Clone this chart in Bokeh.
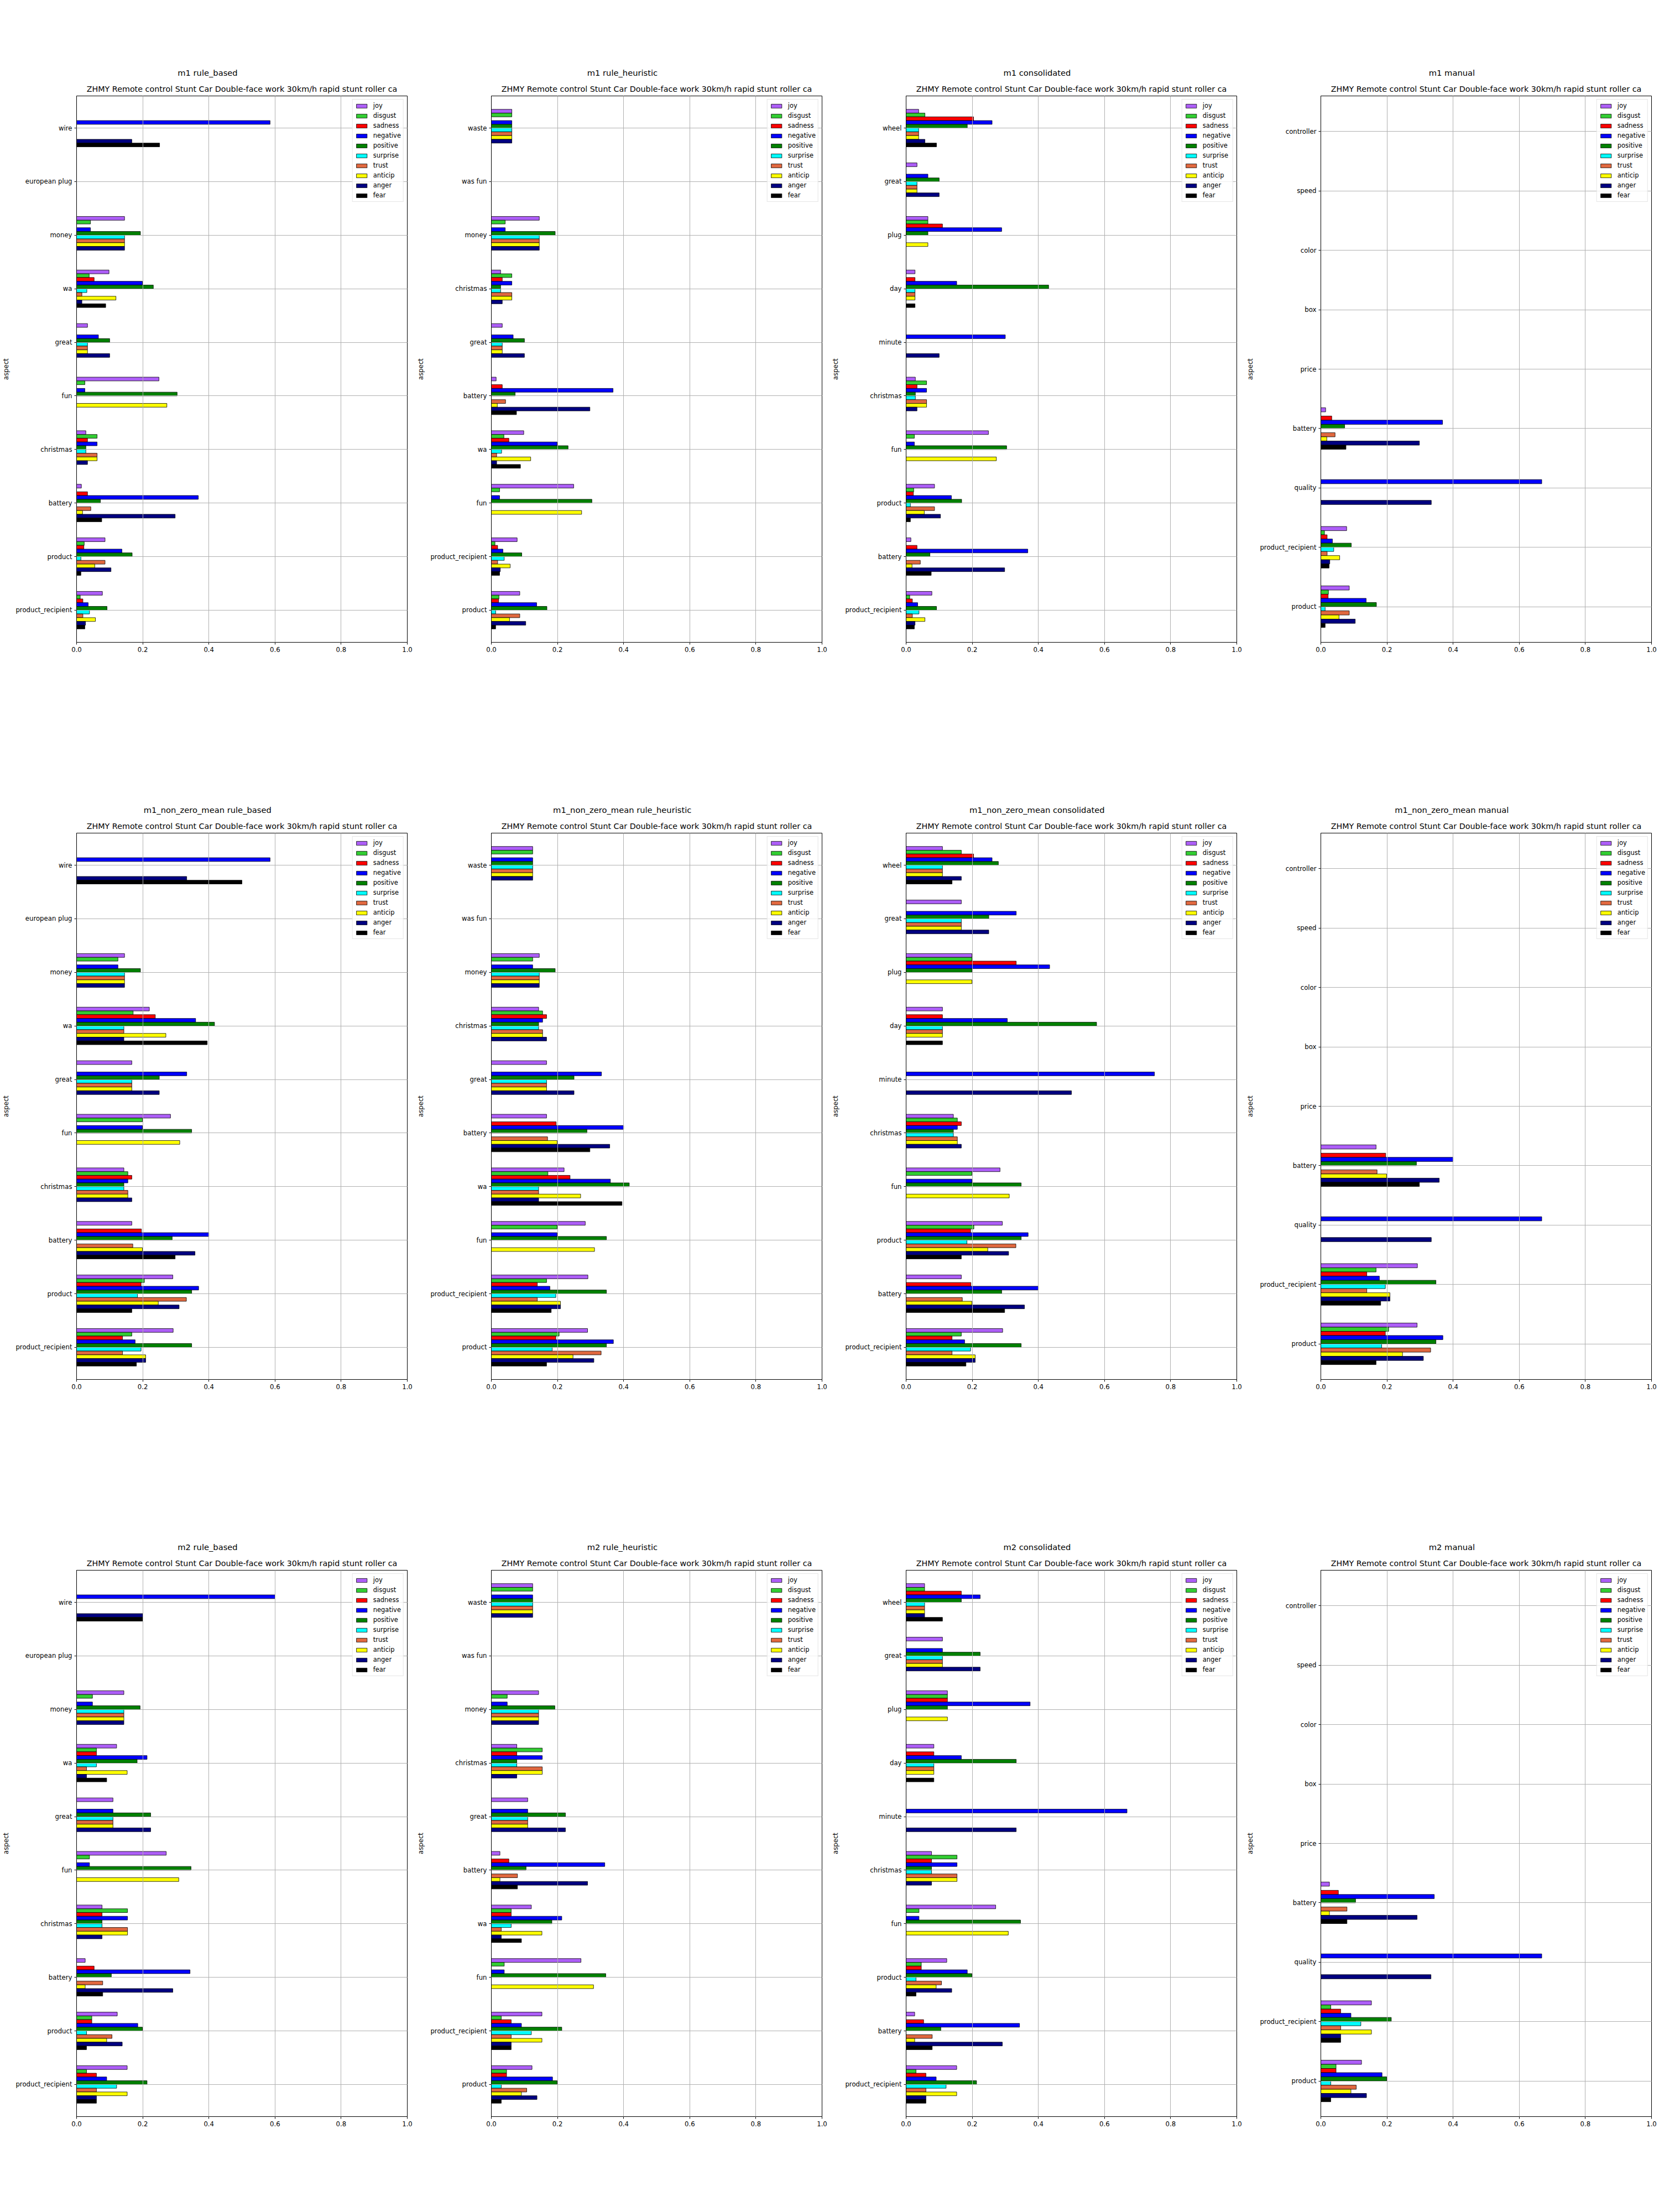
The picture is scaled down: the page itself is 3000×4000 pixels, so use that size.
from bokeh.plotting import figure
from bokeh.layouts import gridplot
from bokeh.models import (Range1d, FixedTicker, Legend, LegendItem, Title,
                          ColumnDataSource, PrintfTickFormatter)
from bokeh.transform import dodge
from bokeh.embed import file_html
from bokeh.resources import INLINE

# ---------------- data ----------------
EMOTIONS = ["joy", "disgust", "sadness", "negative", "positive",
            "surprise", "trust", "anticip", "anger", "fear"]
COLORS = ["#AD5EF7", "#32CD32", "#FF0000", "#0000FF", "#008000",
          "#00FFFF", "#E0683F", "#FFFF00", "#000080", "#000000"]

SUBTITLE = "ZHMY Remote control Stunt Car Double-face work 30km/h rapid stunt roller ca"
METRICS = ["m1", "m1_non_zero_mean", "m2"]
METHODS = ["rule_based", "rule_heuristic", "consolidated", "manual"]

# aspects, listed top to bottom as drawn
ASPECTS_RULE_BASED = ["wire", "european plug", "money", "wa", "great", "fun",
                      "christmas", "battery", "product", "product_recipient"]
ASPECTS_RULE_HEURISTIC = ["waste", "was fun", "money", "christmas", "great", "battery",
                          "wa", "fun", "product_recipient", "product"]
ASPECTS_CONSOLIDATED = ["wheel", "great", "plug", "day", "minute", "christmas",
                        "fun", "product", "battery", "product_recipient"]
ASPECTS_MANUAL = ["controller", "speed", "color", "box", "price", "battery",
                  "quality", "product_recipient", "product"]

Z = [0, 0, 0, 0, 0, 0, 0, 0, 0, 0]

# values per aspect, in EMOTIONS order
M1 = {
    "wire": [0, 0, 0, 0.585, 0, 0, 0, 0, 0.167, 0.251],
    "european plug": Z,
    "money": [0.145, 0.042, 0, 0.042, 0.193, 0.145, 0.145, 0.145, 0.145, 0],
    "wa": [0.098, 0.038, 0.053, 0.199, 0.232, 0.031, 0.016, 0.119, 0.016, 0.088],
    "great": [0.033, 0, 0, 0.066, 0.100, 0.033, 0.033, 0.033, 0.100, 0],
    "fun": [0.249, 0.025, 0, 0.025, 0.304, 0, 0, 0.273, 0, 0],
    "christmas": [0.028, 0.062, 0.033, 0.062, 0.028, 0.028, 0.062, 0.062, 0.033, 0],
    "battery": [0.0145, 0, 0.033, 0.368, 0.072, 0, 0.043, 0.018, 0.298, 0.076],
    "product": [0.086, 0.023, 0.022, 0.137, 0.168, 0.013, 0.086, 0.055, 0.104, 0.013],
    "product_recipient": [0.078, 0.011, 0.019, 0.035, 0.092, 0.039, 0.019, 0.057, 0.027, 0.025],
    "waste": [0.062, 0.062, 0, 0.062, 0.062, 0.062, 0.062, 0.062, 0.062, 0],
    "was fun": Z,
    "wheel": [0.038, 0.057, 0.204, 0.260, 0.185, 0.038, 0.038, 0.038, 0.057, 0.092],
    "plug": [0.066, 0.066, 0.110, 0.289, 0.066, 0, 0, 0.066, 0, 0],
    "day": [0.027, 0, 0.027, 0.153, 0.431, 0.027, 0.027, 0.027, 0, 0.027],
    "minute": [0, 0, 0, 0.300, 0, 0, 0, 0, 0.100, 0],
    "controller": Z, "speed": Z, "color": Z, "box": Z, "price": Z,
    "quality": [0, 0, 0, 0.668, 0, 0, 0, 0, 0.334, 0],
}

M1_NON_ZERO_MEAN = {
    "wire": [0, 0, 0, 0.585, 0, 0, 0, 0, 0.333, 0.500],
    "european plug": Z,
    "money": [0.145, 0.125, 0, 0.125, 0.193, 0.145, 0.145, 0.145, 0.145, 0],
    "wa": [0.220, 0.171, 0.238, 0.360, 0.417, 0.143, 0.143, 0.270, 0.143, 0.395],
    "great": [0.167, 0, 0, 0.333, 0.250, 0.167, 0.167, 0.167, 0.250, 0],
    "fun": [0.284, 0.199, 0, 0.199, 0.348, 0, 0, 0.312, 0, 0],
    "christmas": [0.143, 0.155, 0.167, 0.155, 0.143, 0.143, 0.155, 0.155, 0.167, 0],
    "battery": [0.167, 0, 0.196, 0.400, 0.289, 0, 0.170, 0.199, 0.358, 0.298],
    "product": [0.291, 0.205, 0.195, 0.369, 0.348, 0.184, 0.332, 0.247, 0.310, 0.167],
    "product_recipient": [0.292, 0.167, 0.139, 0.177, 0.348, 0.195, 0.139, 0.209, 0.209, 0.181],
    "waste": [0.125, 0.125, 0, 0.125, 0.125, 0.125, 0.125, 0.125, 0.125, 0],
    "was fun": Z,
    "wheel": [0.110, 0.167, 0.204, 0.260, 0.279, 0.110, 0.110, 0.110, 0.167, 0.139],
    "plug": [0.199, 0.199, 0.333, 0.434, 0.199, 0, 0, 0.199, 0, 0],
    "day": [0.110, 0, 0.110, 0.306, 0.576, 0.110, 0.110, 0.110, 0, 0.110],
    "minute": [0, 0, 0, 0.751, 0, 0, 0, 0, 0.500, 0],
    "controller": Z, "speed": Z, "color": Z, "box": Z, "price": Z,
    "quality": [0, 0, 0, 0.668, 0, 0, 0, 0, 0.334, 0],
}

M2 = {
    "wire": [0, 0, 0, 0.600, 0, 0, 0, 0, 0.200, 0.200],
    "european plug": Z,
    "money": [0.143, 0.048, 0, 0.048, 0.192, 0.143, 0.143, 0.143, 0.143, 0],
    "wa": [0.121, 0.060, 0.060, 0.213, 0.183, 0.060, 0.030, 0.153, 0.030, 0.091],
    "great": [0.110, 0, 0, 0.110, 0.224, 0.110, 0.110, 0.110, 0.224, 0],
    "fun": [0.271, 0.039, 0, 0.039, 0.346, 0, 0, 0.309, 0, 0],
    "christmas": [0.077, 0.154, 0.077, 0.154, 0.077, 0.077, 0.154, 0.154, 0.077, 0],
    "battery": [0.026, 0, 0.053, 0.343, 0.105, 0, 0.079, 0.026, 0.291, 0.079],
    "product": [0.123, 0.046, 0.046, 0.185, 0.199, 0.030, 0.107, 0.091, 0.138, 0.030],
    "product_recipient": [0.153, 0.030, 0.060, 0.091, 0.213, 0.121, 0.060, 0.153, 0.060, 0.060],
    "waste": [0.125, 0.125, 0, 0.125, 0.125, 0.125, 0.125, 0.125, 0.125, 0],
    "was fun": Z,
    "wheel": [0.056, 0.056, 0.167, 0.224, 0.167, 0.056, 0.056, 0.056, 0.056, 0.110],
    "plug": [0.125, 0.125, 0.125, 0.375, 0.125, 0, 0, 0.125, 0, 0],
    "day": [0.084, 0, 0.084, 0.167, 0.333, 0.084, 0.084, 0.084, 0, 0.084],
    "minute": [0, 0, 0, 0.668, 0, 0, 0, 0, 0.333, 0],
    "controller": Z, "speed": Z, "color": Z, "box": Z, "price": Z,
    "quality": [0, 0, 0, 0.668, 0, 0, 0, 0, 0.333, 0],
}

X_TICKS = [0.0, 0.2, 0.4, 0.6, 0.8, 1.0]

# ---------------- drawing ----------------
FONT = "DejaVu Sans"
BAR_H = 0.07
FIG_W, FIG_H = 750, 1333
B_LEFT, B_RIGHT, B_TOP, B_BOTTOM = 138, 14, 173, 172
TITLE_PX = 14.7

# DejaVu Sans advance widths (em) for centring the main title on the cell
_EM = {"a": .613, "b": .635, "c": .550, "d": .635, "e": .615, "f": .352,
       "g": .635, "h": .634, "i": .278, "j": .278, "k": .579, "l": .278,
       "m": .974, "n": .634, "o": .612, "p": .635, "q": .635, "r": .411,
       "s": .521, "t": .392, "u": .634, "v": .592, "w": .818, "x": .592,
       "y": .592, "z": .525, "1": .636, "2": .636, "_": .500, " ": .318}


def text_width(s, px):
    return sum(_EM.get(ch, 0.6) for ch in s) * px


def make_panel(main_title, aspects, values):
    n = len(aspects)
    idx = [n - 1 - i for i in range(n)]
    data = {"aspect": aspects, "idx": idx}
    for j, e in enumerate(EMOTIONS):
        data[e] = [values[a][j] for a in aspects]
    src = ColumnDataSource(data)

    p = figure(width=FIG_W, height=FIG_H, x_range=Range1d(0, 1),
               y_range=Range1d(-0.6, n - 0.4), output_backend="svg",
               toolbar_location=None, title=main_title,
               min_border_left=B_LEFT, min_border_right=B_RIGHT,
               min_border_top=B_TOP, min_border_bottom=B_BOTTOM)
    # main (outer) title, centred over the whole cell
    p.title.align = "left"
    p.title.offset = FIG_W / 2 - B_LEFT - text_width(main_title, TITLE_PX) / 2
    p.title.text_font = FONT
    p.title.text_font_size = f"{TITLE_PX}px"
    p.title.text_font_style = "normal"
    p.title.text_color = "black"
    p.title.standoff = 11
    # subtitle (inner), centred over the frame
    p.add_layout(Title(text=SUBTITLE, align="center",
                       text_font=FONT, text_font_size="14.3px",
                       text_font_style="normal", text_color="black",
                       standoff=10), "above")

    items = []
    for j, e in enumerate(EMOTIONS):
        r = p.hbar(y=dodge("idx", (4.5 - j) * BAR_H), left=0, right=e,
                   height=BAR_H, source=src, fill_color=COLORS[j],
                   line_color="black", line_width=0.8)
        items.append(LegendItem(label=e, renderers=[r]))

    legend = Legend(items=items, location="top_right", margin=6, padding=4,
                    spacing=4, label_height=14, glyph_height=9, glyph_width=24,
                    label_standoff=9, label_text_font=FONT,
                    label_text_font_size="11.5px", label_text_color="black",
                    border_line_color="#cccccc", border_line_width=1,
                    background_fill_alpha=0.8)
    p.add_layout(legend)

    p.xaxis.ticker = FixedTicker(ticks=X_TICKS)
    p.xaxis.formatter = PrintfTickFormatter(format="%.1f")
    p.yaxis.ticker = FixedTicker(ticks=idx)
    p.yaxis.major_label_overrides = {i: a for i, a in zip(idx, aspects)}
    p.yaxis.axis_label = "aspect"
    for ax in (p.xaxis, p.yaxis):
        ax.major_label_text_font = FONT
        ax.major_label_text_font_size = "11.7px"
        ax.major_label_text_color = "black"
        ax.axis_label_text_font = FONT
        ax.axis_label_text_font_size = "11.7px"
        ax.axis_label_text_font_style = "normal"
        ax.axis_label_text_color = "black"
        ax.minor_tick_line_color = None
        ax.major_tick_out = 4
        ax.major_tick_in = 0
        ax.major_label_standoff = 4
        ax.axis_line_color = "black"
        ax.major_tick_line_color = "black"
    p.yaxis.axis_label_standoff = 7

    for g in (p.xgrid, p.ygrid):
        g.grid_line_color = "#b0b0b0"
        g.grid_line_width = 1
        g.level = "guide"
    p.outline_line_color = "black"
    p.outline_line_width = 1
    p.background_fill_color = "white"
    p.border_fill_color = "white"
    return p


ASPECT_LISTS = [ASPECTS_RULE_BASED, ASPECTS_RULE_HEURISTIC,
                ASPECTS_CONSOLIDATED, ASPECTS_MANUAL]
VALUE_SETS = [M1, M1_NON_ZERO_MEAN, M2]

figs = []
for metric, vals in zip(METRICS, VALUE_SETS):
    for method, aspects in zip(METHODS, ASPECT_LISTS):
        figs.append(make_panel(f"{metric} {method}", aspects, vals))

grid = gridplot(figs, ncols=4, toolbar_location=None)

open("out.html", "w").write(file_html(grid, INLINE))
